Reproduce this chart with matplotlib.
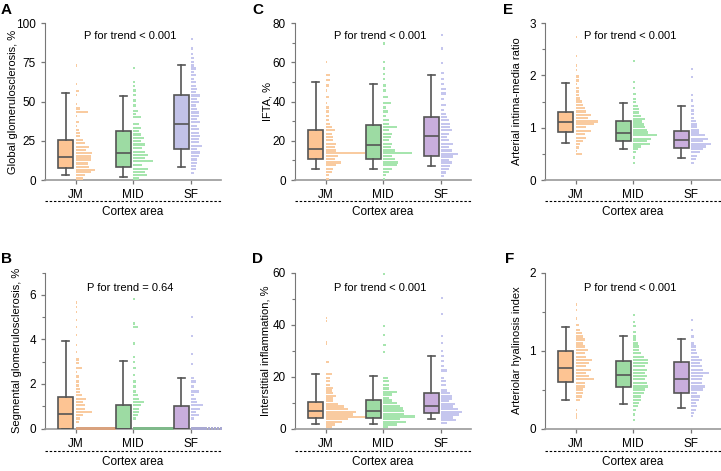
import numpy as np
import matplotlib.pyplot as plt

plt.rcParams['font.family'] = ['Liberation Sans', 'DejaVu Sans']
plt.rcParams['font.size'] = 8

groups = ['JM', 'MID', 'SF']

# box stats per group: [whislo, q1, med, q3, whishi]
a_box = [[3.0, 7.5, 14.7, 25.6, 55.3], [1.9, 8.5, 17.5, 31.0, 53.8], [8.3, 19.7, 35.5, 54.3, 73.0]]
b_box = [[0.0, 0.0, 0.65, 1.40, 3.92], [0.0, 0.0, 0.0, 1.07, 3.05], [0.0, 0.0, 0.0, 1.01, 2.26]]
c_box = [[5.5, 10.6, 15.7, 25.6, 49.9], [5.5, 10.6, 17.8, 28.0, 49.0], [7.2, 12.3, 22.6, 32.0, 53.3]]
d_box = [[1.8, 4.1, 6.9, 10.3, 21.0], [1.8, 4.1, 6.9, 11.0, 20.1], [3.5, 6.0, 8.5, 13.5, 27.8]]
e_box = [[0.71, 0.91, 1.10, 1.30, 1.86], [0.59, 0.74, 0.89, 1.13, 1.47], [0.43, 0.62, 0.77, 0.94, 1.42]]
f_box = [[0.36, 0.60, 0.78, 0.99, 1.30], [0.31, 0.53, 0.69, 0.87, 1.19], [0.26, 0.46, 0.63, 0.85, 1.15]]

# dot histograms: row value and number of dots in the row
a_jm_y = [1, 3, 5, 6.5, 8.5, 10.5, 13, 15, 17, 19, 21, 23.5, 25.5, 28, 30, 32, 34.5, 37, 41, 43.5, 45.5, 48.5, 54, 56.5, 61, 73]
a_jm_n = [5, 6, 10, 13, 9, 8, 10, 10, 11, 7, 9, 6, 5, 3, 3, 2, 1, 2, 1, 8, 3, 1, 1, 2, 1, 1]
a_mid_y = [1, 3, 5, 7, 9.4, 12, 14, 16, 18, 20.5, 22.6, 24.8, 27, 29, 31, 33, 35.5, 40, 42, 44, 47.4, 50.6, 54, 57, 60, 62.4, 71.4]
a_mid_n = [4, 9, 8, 10, 6, 13, 8, 10, 8, 6, 8, 5, 7, 5, 4, 5, 4, 5, 2, 3, 2, 2, 2, 2, 1, 1, 1]
a_sf_y = [4.7, 6.8, 9, 11, 13, 15.4, 17.5, 19.7, 21.8, 24, 26, 28, 30, 32.5, 34.6, 36.8, 39, 41, 43, 45, 47.4, 49.6,
          51.7, 53.8, 56, 58, 60, 62.4, 64.5, 66.7, 68.8, 71, 73, 75, 77.8, 80.5, 83.8, 89.7]
a_sf_n = [2, 3, 3, 4, 4, 5, 6, 4, 7, 5, 5, 6, 5, 5, 4, 6, 4, 5, 5, 4, 3, 5, 4, 6, 3, 4, 3, 3, 2, 3, 2, 3, 2, 2, 2, 1, 1, 1]

b_jm_y = [0, 0.3, 0.45, 0.6, 0.74, 0.89, 1.04, 1.19, 1.34, 1.49, 1.63, 1.78, 1.93, 2.11, 2.33, 2.53, 2.73, 2.93, 3.1,
          3.45, 3.74, 4.19, 4.56, 4.86, 5.23, 5.45, 5.65]
b_jm_n = [27, 2, 3, 5, 11, 6, 6, 5, 7, 4, 3, 3, 2, 2, 2, 1, 4, 2, 2, 1, 1, 1, 1, 1, 1, 1, 1]
b_mid_y = [0, 0.45, 0.6, 0.74, 0.89, 1.04, 1.19, 1.34, 1.49, 1.66, 1.89, 2.11, 2.41, 2.70, 3.0, 3.22, 3.82, 4.56, 4.71, 5.82]
b_mid_n = [27, 2, 3, 4, 4, 5, 7, 4, 3, 2, 2, 2, 1, 2, 1, 1, 1, 3, 1, 1]
b_sf_y = [0, 0.45, 0.6, 0.74, 0.89, 1.04, 1.19, 1.34, 1.49, 1.66, 1.89, 2.11, 2.26, 2.88, 3.36, 4.16, 5.0]
b_sf_n = [21, 2, 5, 3, 6, 8, 4, 3, 2, 5, 2, 3, 2, 1, 1, 1, 1]

c_jm_y = [0.7, 2.4, 4.1, 5.8, 7.5, 8.9, 10.6, 12.3, 13.7, 15, 16.8, 18.5, 20.2, 21.9, 23.6, 25.3, 27, 28.7, 30.4,
          32.8, 34.9, 36.9, 39.3, 42.2, 45.6, 48.2, 50.8, 53.7, 60.2]
c_jm_n = [2, 2, 4, 5, 7, 10, 6, 8, 26, 7, 6, 7, 5, 5, 4, 6, 4, 3, 2, 2, 2, 2, 1, 2, 1, 2, 3, 3, 1]
c_mid_y = [0.7, 2.4, 4.1, 5.8, 7.5, 8.9, 10.6, 12.3, 13.7, 15, 16.8, 18.5, 20.2, 21.9, 23.6, 25.3, 27, 28.7, 30.4,
           32.8, 34.9, 36.9, 39.3, 42.2, 45.6, 48.2, 51.6, 54.2, 56.8, 60.2, 69.6]
c_mid_n = [1, 2, 4, 6, 9, 10, 8, 6, 19, 8, 5, 6, 4, 5, 6, 4, 9, 4, 4, 2, 3, 2, 5, 3, 2, 2, 1, 1, 1, 1, 1]
c_sf_y = [2, 3.8, 5.5, 7.2, 8.9, 10.3, 12, 13.3, 15, 16.8, 18.5, 20.2, 21.9, 23.6, 25.3, 27, 28.7, 30.4, 32.1,
          33.8, 35.6, 38.3, 41.4, 44.1, 46.5, 49, 51.6, 54.7, 59.8, 67, 73.8]
c_sf_n = [2, 3, 5, 6, 7, 5, 8, 11, 7, 5, 8, 5, 4, 5, 7, 6, 6, 5, 4, 3, 2, 3, 2, 3, 3, 2, 2, 2, 1, 1, 1]

d_jm_y = [0.5, 1.5, 2.6, 3.6, 4.4, 5.4, 6.4, 7.4, 8.5, 9.5, 10.5, 11.5, 12.6, 13.6, 14.6, 15.6, 16.7, 18.2, 19.5,
          21, 25.6, 32.7, 33.3, 41.3, 42.6]
d_jm_n = [4, 6, 11, 15, 27, 18, 20, 15, 12, 8, 5, 5, 7, 5, 4, 5, 3, 3, 3, 4, 2, 1, 1, 1, 1]
d_mid_y = [0.5, 1.5, 2.6, 3.6, 4.6, 5.6, 6.7, 7.7, 8.7, 9.7, 10.8, 11.8, 13.1, 14.1, 15.4, 16.7, 18.2, 19.5,
           29.5, 32, 35.9, 39.4, 59.5]
d_mid_n = [3, 9, 15, 11, 21, 14, 14, 13, 11, 9, 6, 4, 6, 9, 4, 4, 4, 3, 1, 2, 1, 1, 1]
d_sf_y = [2.2, 3.2, 4.2, 5.4, 6.4, 7.4, 8.5, 9.5, 10.5, 11.5, 12.6, 13.6, 14.6, 16.7, 18.2, 19.5, 22.3, 24, 25.9,
          27.8, 29.7, 33, 35.5, 44, 50.3]
d_sf_n = [4, 10, 8, 12, 14, 11, 8, 9, 5, 7, 7, 6, 4, 3, 3, 2, 4, 2, 2, 2, 1, 1, 1, 1, 1]

e_jm_y = [0.49, 0.56, 0.62, 0.69, 0.75, 0.81, 0.88, 0.94, 1.01, 1.07, 1.12, 1.18, 1.24, 1.31, 1.37, 1.44, 1.5,
          1.56, 1.63, 1.69, 1.76, 1.84, 1.9, 1.98, 2.1, 2.19, 2.37, 2.74]
e_jm_n = [4, 1, 2, 3, 5, 7, 6, 10, 7, 12, 15, 8, 10, 7, 6, 5, 4, 3, 2, 2, 2, 1, 2, 2, 1, 1, 1, 1]
e_mid_y = [0.33, 0.43, 0.53, 0.59, 0.64, 0.69, 0.74, 0.79, 0.86, 0.91, 0.96, 1.01, 1.06, 1.12, 1.17, 1.23, 1.29,
           1.36, 1.42, 1.49, 1.55, 1.65, 1.76, 1.87, 2.28]
e_mid_n = [1, 1, 2, 3, 5, 11, 9, 12, 16, 10, 9, 8, 7, 6, 8, 5, 4, 4, 3, 2, 2, 2, 1, 1, 1]
e_sf_y = [0.33, 0.40, 0.46, 0.53, 0.59, 0.64, 0.69, 0.74, 0.79, 0.86, 0.91, 0.96, 1.01, 1.06, 1.13, 1.19, 1.26,
          1.33, 1.42, 1.52, 1.62, 1.97, 2.12]
e_sf_n = [2, 3, 4, 6, 8, 10, 13, 8, 11, 9, 5, 5, 4, 4, 3, 2, 2, 2, 2, 1, 1, 1, 1]

f_jm_y = [0.14, 0.18, 0.24, 0.37, 0.41, 0.46, 0.5, 0.54, 0.58, 0.63, 0.67, 0.71, 0.75, 0.8, 0.84, 0.88, 0.92,
          0.97, 1.01, 1.05, 1.09, 1.14, 1.18, 1.22, 1.26, 1.33, 1.41, 1.52, 1.59]
f_jm_n = [1, 1, 1, 3, 4, 5, 5, 6, 6, 12, 9, 7, 10, 7, 9, 11, 7, 6, 8, 6, 5, 6, 5, 4, 3, 2, 1, 1, 1]
f_mid_y = [0.11, 0.18, 0.24, 0.29, 0.33, 0.37, 0.41, 0.46, 0.5, 0.54, 0.58, 0.63, 0.67, 0.71, 0.75, 0.8, 0.84,
           0.88, 0.92, 0.97, 1.01, 1.05, 1.09, 1.14, 1.18, 1.24, 1.31, 1.37, 1.46]
f_mid_n = [1, 1, 2, 3, 4, 5, 5, 7, 8, 10, 9, 8, 9, 8, 9, 8, 10, 10, 7, 5, 4, 4, 3, 2, 2, 2, 2, 1, 1]
f_sf_y = [0.16, 0.2, 0.24, 0.29, 0.33, 0.37, 0.41, 0.46, 0.5, 0.54, 0.58, 0.63, 0.67, 0.71, 0.75, 0.8, 0.84,
          0.88, 0.92, 0.97, 1.01, 1.05, 1.09, 1.18, 1.26, 1.39]
f_sf_n = [1, 2, 3, 4, 3, 5, 6, 4, 8, 9, 7, 7, 8, 12, 8, 7, 6, 7, 5, 4, 3, 3, 2, 2, 1, 1]

EDGE = '#555555'
BOX_COLS = ['#FDC493', '#9DDBA3', '#C9AEDD']
BOX_COLS_A = ['#FDC493', '#9DDBA3', '#C2C2E8']
DOT_COLS = ['#F9CBA0', '#A6E5AE', '#C5C6EE']
ZERO_COLS = ['#D9A27E', '#7FB98A', '#A9A9D2']
PITCH = 0.026
# slightly tall rectangle so each row reads as a band of dots
DOT_MARKER = [(-0.32, -0.5), (0.32, -0.5), (0.32, 0.5), (-0.32, 0.5)]


def draw_panel(ax, box, dots, box_cols, ylim, ticks, minor, ylabel, ptext, lab_x, ptext_y):
    stats = [dict(whislo=b[0], q1=b[1], med=b[2], q3=b[3], whishi=b[4], fliers=[]) for b in box]
    pos = np.arange(len(groups))
    line = dict(color=EDGE, linewidth=1.2)
    bp = ax.bxp(stats, positions=pos - 0.17, widths=0.26, capwidths=0.12, patch_artist=True,
                showfliers=False, manage_ticks=False, zorder=3,
                boxprops=dict(edgecolor=EDGE, linewidth=1.2), whiskerprops=line,
                capprops=line, medianprops=line)
    for patch, c in zip(bp['boxes'], box_cols):
        patch.set_facecolor(c)
    for i, (ys, ns) in enumerate(dots):
        xs, yy, cols = [], [], []
        for y, n in zip(ys, ns):
            xs.extend(i + 0.015 + PITCH * np.arange(n))
            yy.extend([y] * n)
            cols.extend([ZERO_COLS[i] if y == 0 else DOT_COLS[i]] * n)
        ax.scatter(xs, yy, s=2.6, marker=DOT_MARKER, c=cols, linewidths=0, zorder=2.6, clip_on=False)

    ax.set_xlim(-0.53, 2.52)
    ax.set_ylim(*ylim)
    ax.set_yticks(ticks)
    ax.set_yticks(minor, minor=True)
    ax.set_xticks(pos)
    ax.set_xticklabels(groups, fontsize=8.5)
    ax.spines[['top', 'right']].set_visible(False)
    ax.spines['left'].set_color('#777777')
    ax.spines['bottom'].set_color('#999999')
    ax.spines['bottom'].set_linewidth(1.2)
    ax.tick_params(color='#777777', length=3, width=0.9, labelsize=8.5)
    ax.tick_params(which='minor', color='#777777', length=2, width=0.8)
    ax.set_ylabel(ylabel, fontsize=8)
    ax.yaxis.set_label_coords(lab_x, 0.5)
    ax.text(0.95, ptext_y, ptext, transform=ax.get_xaxis_transform(), ha='center', va='center', fontsize=8)


fig = plt.figure(figsize=(7.21, 4.71), dpi=100)
lefts = [0.0624, 0.4092, 0.7559]
top_b, top_h = 0.6178, 0.3333
bot_b, bot_h = 0.0902, 0.3312
W = 0.244

panels = [
    ('A', lefts[0], top_b, top_h, a_box, [(a_jm_y, a_jm_n), (a_mid_y, a_mid_n), (a_sf_y, a_sf_n)], BOX_COLS_A,
     (0, 100), [0, 25, 50, 75, 100], [], 'Global glomerulosclerosis, %', 'P for trend < 0.001', -0.153),
    ('C', lefts[1], top_b, top_h, c_box, [(c_jm_y, c_jm_n), (c_mid_y, c_mid_n), (c_sf_y, c_sf_n)], BOX_COLS,
     (0, 80), [0, 20, 40, 60, 80], [10, 30, 50, 70], 'IFTA, %', 'P for trend < 0.001', -0.13),
    ('E', lefts[2], top_b, top_h, e_box, [(e_jm_y, e_jm_n), (e_mid_y, e_mid_n), (e_sf_y, e_sf_n)], BOX_COLS,
     (0, 3), [0, 1, 2, 3], [0.5, 1.5, 2.5], 'Arterial intima-media ratio', 'P for trend < 0.001', -0.13),
    ('B', lefts[0], bot_b, bot_h, b_box, [(b_jm_y, b_jm_n), (b_mid_y, b_mid_n), (b_sf_y, b_sf_n)], BOX_COLS,
     (0, 7), [0, 2, 4, 6], [1, 3, 5, 7], 'Segmental glomerulosclerosis, %', 'P for trend = 0.64', -0.13),
    ('D', lefts[1], bot_b, bot_h, d_box, [(d_jm_y, d_jm_n), (d_mid_y, d_mid_n), (d_sf_y, d_sf_n)], BOX_COLS,
     (0, 60), [0, 20, 40, 60], [10, 30, 50], 'Interstitial inflammation, %', 'P for trend < 0.001', -0.142),
    ('F', lefts[2], bot_b, bot_h, f_box, [(f_jm_y, f_jm_n), (f_mid_y, f_mid_n), (f_sf_y, f_sf_n)], BOX_COLS,
     (0, 2), [0, 1, 2], [0.5, 1.5], 'Arteriolar hyalinosis index', 'P for trend < 0.001', -0.13),
]

letter_pos = {'A': (1, 10), 'C': (252, 10), 'E': (503, 10), 'B': (1, 259), 'D': (252, 259), 'F': (505, 259)}

for (letter, left, bottom, height, box, dots, cols, ylim, ticks, minor, ylabel, ptext, lab_x) in panels:
    ax = fig.add_axes([left, bottom, W, height])
    top_row = bottom > 0.5
    draw_panel(ax, box, dots, cols, ylim, ticks, minor, ylabel, ptext, lab_x, 0.92 if top_row else 0.9)
    dash_y = -0.134 if top_row else -0.144
    text_y = -0.204 if top_row else -0.215
    ax.plot([0, 1], [dash_y, dash_y], transform=ax.transAxes, clip_on=False, color='black',
            linewidth=0.8, linestyle=(0, (2.2, 1.6)))
    ax.text(0.5, text_y, 'Cortex area', transform=ax.transAxes, ha='center', va='center', fontsize=8.5)
    lx, ly = letter_pos[letter]
    fig.text(lx / 721, 1 - ly / 471, letter, fontsize=11, fontweight='bold', ha='left', va='center')

fig.savefig('out.png', dpi=100)
